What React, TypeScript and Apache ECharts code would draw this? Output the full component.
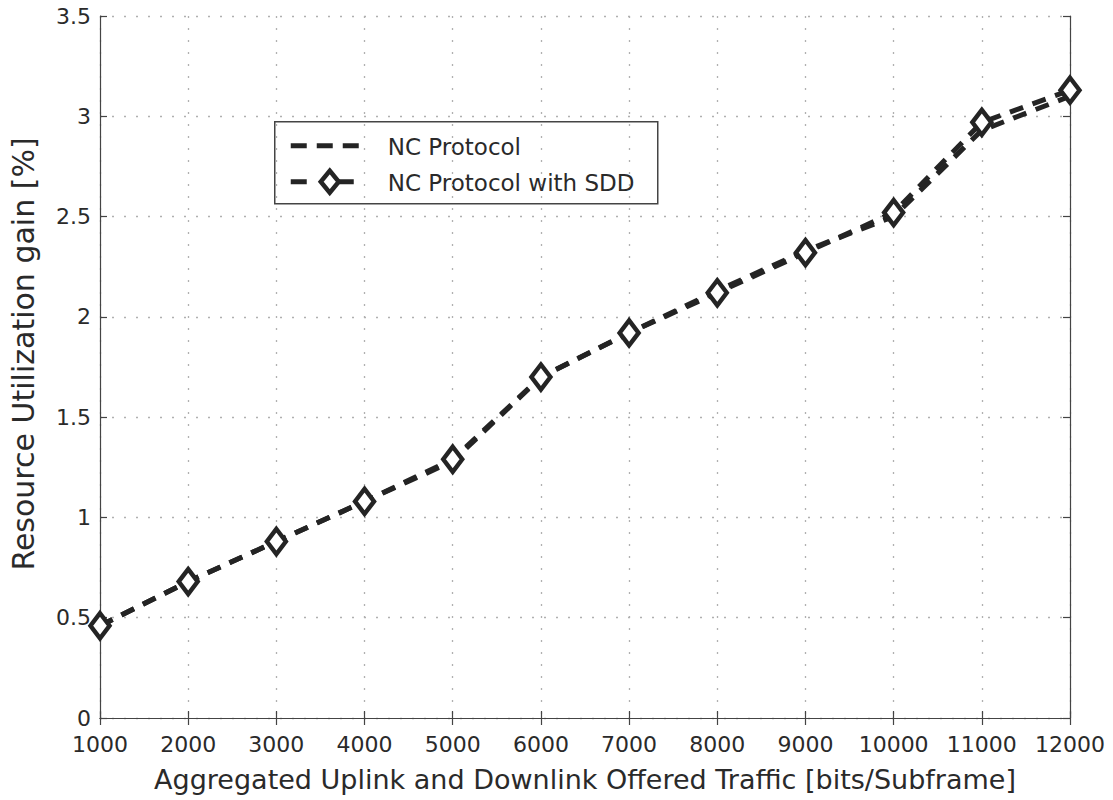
import React, { useEffect, useRef } from "react";
import * as echarts from "echarts";

const xValues = [1000, 2000, 3000, 4000, 5000, 6000, 7000, 8000, 9000, 10000, 11000, 12000];
const ncProtocol = [0.46, 0.68, 0.88, 1.08, 1.28, 1.70, 1.92, 2.13, 2.33, 2.50, 2.93, 3.10];
const ncProtocolSdd = [0.46, 0.68, 0.88, 1.08, 1.29, 1.70, 1.92, 2.12, 2.32, 2.52, 2.97, 3.13];
const seriesNames = ["NC Protocol", "NC Protocol with SDD"];
const xAxisName = "Aggregated Uplink and Downlink Offered Traffic [bits/Subframe]";
const yAxisName = "Resource Utilization gain [%]";

const FONT = "'DejaVu Sans', 'Liberation Sans', Arial, sans-serif";
const INK = "#242424";
const TXT = "#2a2a2a";

export default function App() {
  const ref = useRef<HTMLDivElement>(null);
  useEffect(() => {
    document.body.style.margin = "0";
    const chart = echarts.init(ref.current!, null, { renderer: "svg" });
    const axisCommon = {
      type: "value" as const,
      axisLine: { show: true, lineStyle: { color: "#444", width: 1.2 } },
      axisTick: { show: true, inside: true, length: 7, lineStyle: { color: "#444", width: 1.2 } },
      splitLine: { show: false },
    };
    const grid = { show: true, lineStyle: { color: "#b0b0b0", type: [2, 10], width: 1.3 } };
    chart.setOption({
      animation: false,
      backgroundColor: "#fff",
      grid: { left: 98, right: 43, top: 16, bottom: 82, containLabel: false },
      xAxis: [
        {
          ...axisCommon,
          min: 1000,
          max: 12000,
          interval: 1000,
          position: "bottom",
          name: xAxisName,
          nameLocation: "middle",
          nameGap: 48,
          nameTextStyle: { fontFamily: FONT, fontSize: 27, color: TXT },
          axisLabel: { fontFamily: FONT, fontSize: 22, color: TXT, margin: 15, formatter: (v: number) => String(v) },
          splitLine: grid,
        },
        {
          ...axisCommon,
          min: 1000,
          max: 12000,
          interval: 1000,
          position: "top",
          axisLabel: { show: false },
        },
      ],
      yAxis: [
        {
          ...axisCommon,
          min: 0,
          max: 3.5,
          interval: 0.5,
          position: "left",
          name: yAxisName,
          nameLocation: "middle",
          nameGap: 62,
          nameTextStyle: { fontFamily: FONT, fontSize: 30, color: TXT, padding: [0, 0, 0, 26] },
          axisLabel: { fontFamily: FONT, fontSize: 22, color: TXT, margin: 9 },
          splitLine: grid,
        },
        {
          ...axisCommon,
          min: 0,
          max: 3.5,
          interval: 0.5,
          position: "right",
          axisLabel: { show: false },
        },
      ],
      series: [
        {
          name: seriesNames[0],
          type: "line",
          data: xValues.map((x, i) => [x, ncProtocol[i]]),
          showSymbol: false,
          symbol: "none",
          lineStyle: { color: INK, width: 5, type: [14, 10] },
          z: 2,
        },
        {
          name: seriesNames[1],
          type: "line",
          data: xValues.map((x, i) => [x, ncProtocolSdd[i]]),
          symbol: "diamond",
          symbolSize: [19, 25],
          itemStyle: { color: "#fff", borderColor: INK, borderWidth: 4.5 },
          lineStyle: { color: INK, width: 5, type: [14, 10] },
          z: 3,
        },
      ],
      graphic: [
        {
          type: "group",
          left: 274,
          top: 121,
          children: [
            {
              type: "rect",
              shape: { x: 0, y: 0, width: 383, height: 82 },
              style: { fill: "#fff", stroke: "#444", lineWidth: 1.5 },
            },
            {
              type: "line",
              shape: { x1: 16, y1: 24, x2: 94, y2: 24 },
              style: { stroke: INK, lineWidth: 5, lineDash: [16, 10] },
            },
            {
              type: "text",
              x: 113,
              y: 25,
              style: { text: seriesNames[0], font: `23px ${FONT}`, fill: TXT, verticalAlign: "middle" },
            },
            {
              type: "line",
              shape: { x1: 16, y1: 60, x2: 94, y2: 60 },
              style: { stroke: INK, lineWidth: 5, lineDash: [16, 31] },
            },
            {
              type: "polygon",
              shape: { points: [[55, 49], [64, 60], [55, 71], [46, 60]] },
              style: { fill: "#fff", stroke: INK, lineWidth: 4.5 },
            },
            {
              type: "text",
              x: 113,
              y: 61,
              style: { text: seriesNames[1], font: `23px ${FONT}`, fill: TXT, verticalAlign: "middle" },
            },
          ],
        },
      ],
    });
    return () => chart.dispose();
  }, []);
  return <div ref={ref} style={{ width: 1113, height: 800 }} />;
}
